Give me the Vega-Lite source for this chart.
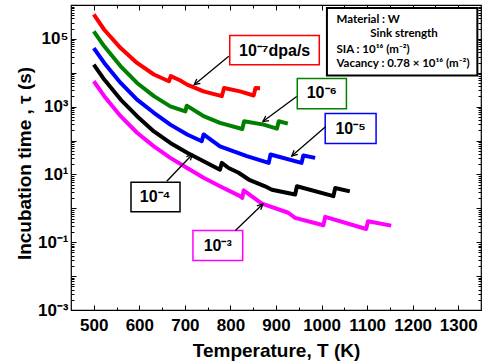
{
  "$schema": "https://vega.github.io/schema/vega-lite/v6.json",
  "width": 410,
  "height": 305,
  "autosize": "none",
  "padding": {"left": 71, "top": 5, "right": 5, "bottom": 54},
  "background": "white",
  "config": {"view": {"stroke": "#000", "strokeWidth": 1.2}, "font": "Liberation Sans"},
  "datasets": {
    "curves": [
      {"rate": "1e-7", "T": 500, "tau": 525000}, {"rate": "1e-7", "T": 523, "tau": 186000}, {"rate": "1e-7", "T": 559, "tau": 53700}, {"rate": "1e-7", "T": 595, "tau": 19500}, {"rate": "1e-7", "T": 632, "tau": 8910}, {"rate": "1e-7", "T": 665, "tau": 5620}, {"rate": "1e-7", "T": 669, "tau": 7940}, {"rate": "1e-7", "T": 689, "tau": 6000}, {"rate": "1e-7", "T": 705, "tau": 4470}, {"rate": "1e-7", "T": 741, "tau": 2820}, {"rate": "1e-7", "T": 781, "tau": 2040}, {"rate": "1e-7", "T": 786, "tau": 3550}, {"rate": "1e-7", "T": 821, "tau": 2820}, {"rate": "1e-7", "T": 851, "tau": 2140}, {"rate": "1e-7", "T": 855, "tau": 3550}, {"rate": "1e-7", "T": 865, "tau": 3470},
      {"rate": "1e-6", "T": 500, "tau": 166000}, {"rate": "1e-6", "T": 523, "tau": 60300}, {"rate": "1e-6", "T": 559, "tau": 15500}, {"rate": "1e-6", "T": 595, "tau": 5010}, {"rate": "1e-6", "T": 632, "tau": 2040}, {"rate": "1e-6", "T": 668, "tau": 1020}, {"rate": "1e-6", "T": 701, "tau": 724}, {"rate": "1e-6", "T": 704, "tau": 1070}, {"rate": "1e-6", "T": 731, "tau": 640}, {"rate": "1e-6", "T": 741, "tau": 525}, {"rate": "1e-6", "T": 777, "tau": 331}, {"rate": "1e-6", "T": 826, "tau": 219}, {"rate": "1e-6", "T": 830, "tau": 372}, {"rate": "1e-6", "T": 873, "tau": 295}, {"rate": "1e-6", "T": 902, "tau": 224}, {"rate": "1e-6", "T": 906, "tau": 372}, {"rate": "1e-6", "T": 926, "tau": 316},
      {"rate": "1e-5", "T": 500, "tau": 53700}, {"rate": "1e-5", "T": 523, "tau": 19500}, {"rate": "1e-5", "T": 559, "tau": 5010}, {"rate": "1e-5", "T": 595, "tau": 1620}, {"rate": "1e-5", "T": 632, "tau": 661}, {"rate": "1e-5", "T": 668, "tau": 295}, {"rate": "1e-5", "T": 705, "tau": 151}, {"rate": "1e-5", "T": 737, "tau": 95.5}, {"rate": "1e-5", "T": 741, "tau": 151}, {"rate": "1e-5", "T": 777, "tau": 67.6}, {"rate": "1e-5", "T": 836, "tau": 34.7}, {"rate": "1e-5", "T": 884, "tau": 21.9}, {"rate": "1e-5", "T": 888, "tau": 38.9}, {"rate": "1e-5", "T": 956, "tau": 21.9}, {"rate": "1e-5", "T": 960, "tau": 36.3}, {"rate": "1e-5", "T": 986, "tau": 30.9},
      {"rate": "1e-4", "T": 500, "tau": 17400}, {"rate": "1e-4", "T": 523, "tau": 6310}, {"rate": "1e-4", "T": 559, "tau": 1620}, {"rate": "1e-4", "T": 595, "tau": 525}, {"rate": "1e-4", "T": 632, "tau": 186}, {"rate": "1e-4", "T": 668, "tau": 85.1}, {"rate": "1e-4", "T": 705, "tau": 43.7}, {"rate": "1e-4", "T": 741, "tau": 24.5}, {"rate": "1e-4", "T": 777, "tau": 13.8}, {"rate": "1e-4", "T": 781, "tau": 21.9}, {"rate": "1e-4", "T": 796, "tau": 15.5}, {"rate": "1e-4", "T": 818, "tau": 11.2}, {"rate": "1e-4", "T": 840, "tau": 7.08}, {"rate": "1e-4", "T": 876, "tau": 4.47}, {"rate": "1e-4", "T": 891, "tau": 3.55}, {"rate": "1e-4", "T": 942, "tau": 2.57}, {"rate": "1e-4", "T": 946, "tau": 4.47}, {"rate": "1e-4", "T": 1026, "tau": 2.29}, {"rate": "1e-4", "T": 1030, "tau": 3.98}, {"rate": "1e-4", "T": 1062, "tau": 3.16},
      {"rate": "1e-3", "T": 500, "tau": 5620}, {"rate": "1e-3", "T": 523, "tau": 2040}, {"rate": "1e-3", "T": 559, "tau": 525}, {"rate": "1e-3", "T": 595, "tau": 170}, {"rate": "1e-3", "T": 632, "tau": 67.6}, {"rate": "1e-3", "T": 668, "tau": 30.9}, {"rate": "1e-3", "T": 705, "tau": 15.5}, {"rate": "1e-3", "T": 741, "tau": 7.94}, {"rate": "1e-3", "T": 777, "tau": 4.47}, {"rate": "1e-3", "T": 821, "tau": 2.29}, {"rate": "1e-3", "T": 826, "tau": 2.04}, {"rate": "1e-3", "T": 829, "tau": 3.39}, {"rate": "1e-3", "T": 869, "tau": 1.38}, {"rate": "1e-3", "T": 927, "tau": 0.741}, {"rate": "1e-3", "T": 942, "tau": 0.525}, {"rate": "1e-3", "T": 1004, "tau": 0.316}, {"rate": "1e-3", "T": 1008, "tau": 0.562}, {"rate": "1e-3", "T": 1098, "tau": 0.245}, {"rate": "1e-3", "T": 1102, "tau": 0.417}, {"rate": "1e-3", "T": 1153, "tau": 0.309}
    ],
    "boxes": [
      {"rate": "1e-7", "label": "10⁻⁷dpa/s", "T1": 798.5, "T2": 995, "v1": 17400, "v2": 126000, "tx": 897, "tv": 44700},
      {"rate": "1e-6", "label": "10⁻⁶", "T1": 946.7, "T2": 1054.6, "v1": 871, "v2": 6760, "tx": 1000.5, "tv": 2455},
      {"rate": "1e-5", "label": "10⁻⁵", "T1": 1008, "T2": 1119.7, "v1": 81.3, "v2": 631, "tx": 1063.8, "tv": 224},
      {"rate": "1e-4", "label": "10⁻⁴", "T1": 581.7, "T2": 689.3, "v1": 0.794, "v2": 5.89, "tx": 634.7, "tv": 2.14},
      {"rate": "1e-3", "label": "10⁻³", "T1": 717.7, "T2": 826.9, "v1": 0.0288, "v2": 0.221, "tx": 772, "tv": 0.0794}
    ],
    "arrows": [
      {"rate": "1e-7", "T": 796.3, "v": 30700, "T2": 720.5, "v2": 4467, "angle": 231},
      {"rate": "1e-6", "T": 945.4, "v": 1995, "T2": 871.2, "v2": 363, "angle": 233.7},
      {"rate": "1e-5", "T": 1008.7, "v": 257, "T2": 934.5, "v2": 35.1, "angle": 229.2},
      {"rate": "1e-4", "T": 660.2, "v": 6.31, "T2": 716.2, "v2": 38.9, "angle": 43.8},
      {"rate": "1e-3", "T": 810.9, "v": 0.221, "T2": 871.2, "v2": 1.35, "angle": 46}
    ],
    "infobox": [{"T1": 1011.8, "T2": 1342, "v1": 8318, "v2": 813000}],
    "info": [
      {"line": "Material : W", "T": 1032.8, "v": 355000},
      {"line": "Sink strength", "T": 1107, "v": 141000},
      {"line": "SIA : 10¹⁶ (m⁻²)", "T": 1032.8, "v": 45700},
      {"line": "Vacancy : 0.78 × 10¹⁶ (m⁻²)", "T": 1032.8, "v": 18600}
    ]
  },
  "layer": [
    {
      "data": {"name": "curves"},
      "mark": {"type": "line", "strokeWidth": 4, "interpolate": "linear", "strokeJoin": "round"},
      "encoding": {
        "x": {"field": "T", "type": "quantitative", "scale": {"domain": [450, 1350], "nice": false, "zero": false},
          "axis": {"orient": "bottom", "values": [500, 600, 700, 800, 900, 1000, 1100, 1200, 1300], "format": "d", "tickSize": -5, "tickColor": "#000", "tickWidth": 1, "domain": false, "grid": false,
            "labelFont": "Liberation Sans", "labelFontSize": 17, "labelFontWeight": "bold", "labelColor": "#000", "labelPadding": 20, "labelBaseline": "middle", "labelFlush": false, "labelOverlap": false,
            "title": "Temperature,  T (K)", "titleFont": "Liberation Sans", "titleFontSize": 19, "titleFontWeight": "bold", "titleColor": "#000", "titleX": 205, "titleY": 40, "titleBaseline": "middle", "titleAlign": "center"}},
        "y": {"field": "tau", "type": "quantitative", "scale": {"type": "log", "domain": [0.001, 1000000], "nice": false},
          "axis": {"orient": "left", "values": [0.001, 0.01, 0.1, 1, 10, 100, 1000, 10000, 100000, 1000000], "tickSize": -5, "tickColor": "#000", "tickWidth": 1, "domain": false, "grid": false,
            "labelExpr": "datum.value == 0.001 ? '10⁻³' : datum.value == 0.1 ? '10⁻¹' : datum.value == 10 ? '10¹' : datum.value == 1000 ? '10³' : datum.value == 100000 ? '10⁵' : ''",
            "labelFont": "Liberation Sans", "labelFontSize": 17, "labelFontWeight": "bold", "labelColor": "#000", "labelPadding": 8, "labelFlush": false, "labelOverlap": false,
            "title": "Incubation time , τ  (s)", "titleFont": "Liberation Sans", "titleFontSize": 19, "titleFontWeight": "bold", "titleColor": "#000", "titleX": -47, "titleY": 158, "titleAngle": 270, "titleBaseline": "middle", "titleAlign": "center"}},
        "color": {"field": "rate", "type": "nominal", "scale": {"domain": ["1e-7", "1e-6", "1e-5", "1e-4", "1e-3"], "range": ["#FF0000", "#008000", "#0000FF", "#000000", "#FF00FF"]}, "legend": null}
      }
    },
    {
      "data": {"name": "boxes"},
      "mark": {"type": "rect", "fill": "white", "strokeWidth": 1.5},
      "encoding": {
        "x": {"field": "T1", "type": "quantitative", "axis": {"orient": "bottom", "values": [550, 650, 750, 850, 950, 1050, 1150, 1250], "tickSize": -3, "tickColor": "#000", "labels": false, "domain": false, "grid": false, "title": null}},
        "x2": {"field": "T2"},
        "y": {"field": "v1", "type": "quantitative", "scale": {"type": "log"}, "axis": {"orient": "left", "values": [0.002, 0.003, 0.004, 0.005, 0.006, 0.007, 0.008, 0.009, 0.02, 0.03, 0.04, 0.05, 0.06, 0.07, 0.08, 0.09, 0.2, 0.3, 0.4, 0.5, 0.6, 0.7, 0.8, 0.9, 2, 3, 4, 5, 6, 7, 8, 9, 20, 30, 40, 50, 60, 70, 80, 90, 200, 300, 400, 500, 600, 700, 800, 900, 2000, 3000, 4000, 5000, 6000, 7000, 8000, 9000, 20000, 30000, 40000, 50000, 60000, 70000, 80000, 90000, 200000, 300000, 400000, 500000, 600000, 700000, 800000, 900000], "tickSize": -3, "tickColor": "#000", "labels": false, "domain": false, "grid": false, "title": null}},
        "y2": {"field": "v2"},
        "stroke": {"field": "rate", "type": "nominal", "scale": {"domain": ["1e-7", "1e-6", "1e-5", "1e-4", "1e-3"], "range": ["#FF0000", "#008000", "#0000FF", "#000000", "#FF00FF"]}, "legend": null}
      }
    },
    {
      "data": {"name": "infobox"},
      "mark": {"type": "rect", "fill": "white", "stroke": "#000", "strokeWidth": 2},
      "encoding": {
        "x": {"field": "T1", "type": "quantitative", "axis": null},
        "x2": {"field": "T2"},
        "y": {"field": "v1", "type": "quantitative", "scale": {"type": "log"}, "axis": null},
        "y2": {"field": "v2"}
      }
    },
    {
      "data": {"name": "arrows"},
      "mark": {"type": "rule", "stroke": "#000", "strokeWidth": 1.3},
      "encoding": {
        "x": {"field": "T", "type": "quantitative", "axis": {"orient": "top", "values": [500, 600, 700, 800, 900, 1000, 1100, 1200, 1300], "tickSize": -5, "tickColor": "#000", "labels": false, "domain": false, "grid": false, "title": null}},
        "x2": {"field": "T2"},
        "y": {"field": "v", "type": "quantitative", "scale": {"type": "log"}, "axis": {"orient": "right", "values": [0.001, 0.01, 0.1, 1, 10, 100, 1000, 10000, 100000, 1000000], "tickSize": -5, "tickColor": "#000", "labels": false, "domain": false, "grid": false, "title": null}},
        "y2": {"field": "v2"}
      }
    },
    {
      "data": {"name": "arrows"},
      "mark": {"type": "point", "shape": "M -0.8 1.6 L 0 0 L 0.8 1.6", "filled": false, "stroke": "#000", "strokeWidth": 1.3, "size": 49, "opacity": 1},
      "encoding": {
        "x": {"field": "T2", "type": "quantitative", "axis": {"orient": "top", "values": [550, 650, 750, 850, 950, 1050, 1150, 1250], "tickSize": -3, "tickColor": "#000", "labels": false, "domain": false, "grid": false, "title": null}},
        "y": {"field": "v2", "type": "quantitative", "scale": {"type": "log"}, "axis": {"orient": "right", "values": [0.002, 0.003, 0.004, 0.005, 0.006, 0.007, 0.008, 0.009, 0.02, 0.03, 0.04, 0.05, 0.06, 0.07, 0.08, 0.09, 0.2, 0.3, 0.4, 0.5, 0.6, 0.7, 0.8, 0.9, 2, 3, 4, 5, 6, 7, 8, 9, 20, 30, 40, 50, 60, 70, 80, 90, 200, 300, 400, 500, 600, 700, 800, 900, 2000, 3000, 4000, 5000, 6000, 7000, 8000, 9000, 20000, 30000, 40000, 50000, 60000, 70000, 80000, 90000, 200000, 300000, 400000, 500000, 600000, 700000, 800000, 900000], "tickSize": -3, "tickColor": "#000", "labels": false, "domain": false, "grid": false, "title": null}},
        "angle": {"field": "angle", "type": "quantitative", "scale": null}
      }
    },
    {
      "data": {"name": "boxes"},
      "mark": {"type": "text", "font": "Liberation Sans", "fontSize": 16, "fontWeight": "bold", "color": "#000", "align": "center", "baseline": "middle"},
      "encoding": {
        "x": {"field": "tx", "type": "quantitative", "axis": null},
        "y": {"field": "tv", "type": "quantitative", "scale": {"type": "log"}, "axis": null},
        "text": {"field": "label"}
      }
    },
    {
      "data": {"name": "info"},
      "mark": {"type": "text", "font": "Lato", "fontSize": 11.5, "fontWeight": "bold", "color": "#000", "align": "left", "baseline": "middle"},
      "encoding": {
        "x": {"field": "T", "type": "quantitative", "axis": null},
        "y": {"field": "v", "type": "quantitative", "scale": {"type": "log"}, "axis": null},
        "text": {"field": "line"}
      }
    }
  ],
  "resolve": {"axis": {"x": "independent", "y": "independent"}}
}
